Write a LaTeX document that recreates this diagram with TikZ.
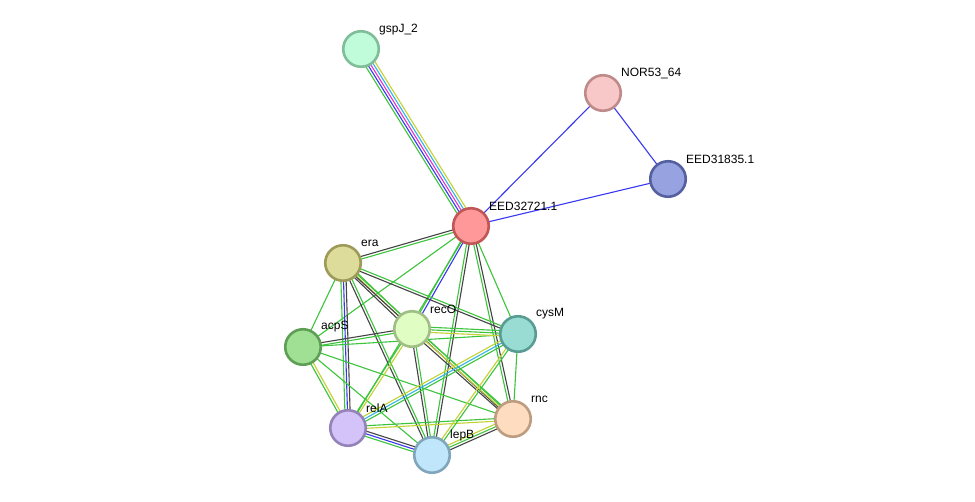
\documentclass[tikz,border=0pt]{standalone}
\usepackage{fontspec}
\setmainfont{Liberation Sans}
\usetikzlibrary{calc,backgrounds}
\definecolor{sgreen}{HTML}{3CC43C}
\definecolor{sblue}{HTML}{3838F0}
\definecolor{sblack}{HTML}{444444}
\definecolor{smag}{HTML}{DD33DD}
\definecolor{scyan}{HTML}{33B5E5}
\definecolor{syellow}{HTML}{C4D232}
\tikzset{
  gnode/.style={circle,minimum size=35.5pt,inner sep=0pt,line width=2.6pt},
  lab/.style={anchor=west,inner sep=0pt,font=\fontsize{12}{14}\selectfont},
  edge/.style={line width=1.1pt},
}
\newcommand\medge[3]{%
  \foreach \c [count=\i] in {#3}{\xdef\ecount{\i}}%
  \foreach \c [count=\i] in {#3}{%
    \pgfmathsetmacro\off{(\i-(\ecount+1)/2)*2.6}%
    \draw[edge,\c] ($(#1.center)!\off pt!90:(#2.center)$) -- ($(#2.center)!\off pt!-90:(#1.center)$);
  }}
\begin{document}
\begin{tikzpicture}[x=1pt,y=-1pt]
\useasboundingbox (0,0) rectangle (975,501);
\node[gnode,fill={rgb,255:red,192;green,252;blue,217},draw={rgb,255:red,128;green,190;blue,154}] (gspJ) at (361,49) {};
\node[gnode,fill={rgb,255:red,248;green,200;blue,200},draw={rgb,255:red,190;green,138;blue,138}] (NOR) at (603,93) {};
\node[gnode,fill={rgb,255:red,151;green,163;blue,224},draw={rgb,255:red,85;green,96;blue,160}] (E318) at (668,179) {};
\node[gnode,fill={rgb,255:red,255;green,152;blue,152},draw={rgb,255:red,192;green,86;blue,86}] (E) at (471,226) {};
\node[gnode,fill={rgb,255:red,222;green,220;blue,154},draw={rgb,255:red,158;green,155;blue,90}] (era) at (343,263) {};
\node[gnode,fill={rgb,255:red,160;green,224;blue,148},draw={rgb,255:red,95;green,159;blue,85}] (acpS) at (303,347) {};
\node[gnode,fill={rgb,255:red,224;green,253;blue,196},draw={rgb,255:red,159;green,191;blue,132}] (recO) at (412,329) {};
\node[gnode,fill={rgb,255:red,152;green,220;blue,211},draw={rgb,255:red,88;green,156;blue,147}] (cysM) at (518,334) {};
\node[gnode,fill={rgb,255:red,253;green,220;blue,191},draw={rgb,255:red,189;green,156;blue,127}] (rnc) at (513,419) {};
\node[gnode,fill={rgb,255:red,211;green,195;blue,249},draw={rgb,255:red,147;green,131;blue,185}] (relA) at (348,428) {};
\node[gnode,fill={rgb,255:red,192;green,230;blue,251},draw={rgb,255:red,128;green,166;blue,187}] (lepB) at (432,455) {};
\node[lab] (lgspJ) at (379,29.5) {gspJ\_2};
\node[lab] (lNOR) at (621,73.5) {NOR53\_64};
\node[lab] (lE318) at (686,159) {EED31835.1};
\node[lab] (lE) at (489,206) {EED32721.1};
\node[lab] (lera) at (361,243) {era};
\node[lab] (lacpS) at (321,327) {acpS};
\node[lab] (lrecO) at (430,309) {recO};
\node[lab] (lcysM) at (536,314) {cysM};
\node[lab] (lrnc) at (531,399) {rnc};
\node[lab] (lrelA) at (366,408) {relA};
\node[lab] (llepB) at (450,435) {lepB};
\begin{pgfonlayer}{background}
\fill[white] (0,0) rectangle (975,501);
\medge{gspJ}{E}{sgreen,sblue,smag,scyan,syellow}
\medge{E}{NOR}{sblue}
\medge{E}{E318}{sblue}
\medge{NOR}{E318}{sblue}
\medge{E}{era}{sblack,sgreen}
\medge{E}{acpS}{sgreen}
\medge{E}{recO}{sgreen,sblue}
\medge{E}{relA}{sgreen}
\medge{E}{cysM}{sgreen}
\medge{E}{rnc}{sgreen,sblack}
\medge{E}{lepB}{sgreen,sblack}
\medge{era}{acpS}{sgreen}
\medge{era}{recO}{sblack,syellow,sgreen}
\medge{era}{cysM}{sblack,sgreen}
\medge{era}{rnc}{sblack,sgreen}
\medge{era}{relA}{sgreen,sblue,sblack}
\medge{era}{lepB}{sblack,sgreen}
\medge{acpS}{recO}{sgreen,sblack}
\medge{acpS}{cysM}{sgreen}
\medge{acpS}{relA}{sgreen,syellow}
\medge{acpS}{lepB}{sgreen}
\medge{acpS}{rnc}{sgreen}
\medge{recO}{cysM}{syellow,sgreen,sgreen}
\medge{recO}{relA}{sgreen,syellow}
\medge{recO}{lepB}{sblack,sgreen}
\medge{recO}{rnc}{sblack,syellow,sgreen}
\medge{relA}{cysM}{sgreen,scyan,syellow}
\medge{relA}{lepB}{sgreen,sblue,sblack}
\medge{relA}{rnc}{syellow,sgreen}
\medge{lepB}{cysM}{sgreen,syellow}
\medge{lepB}{rnc}{sblack,sgreen,syellow}
\medge{cysM}{rnc}{sgreen}
\end{pgfonlayer}
\end{tikzpicture}
\end{document}
